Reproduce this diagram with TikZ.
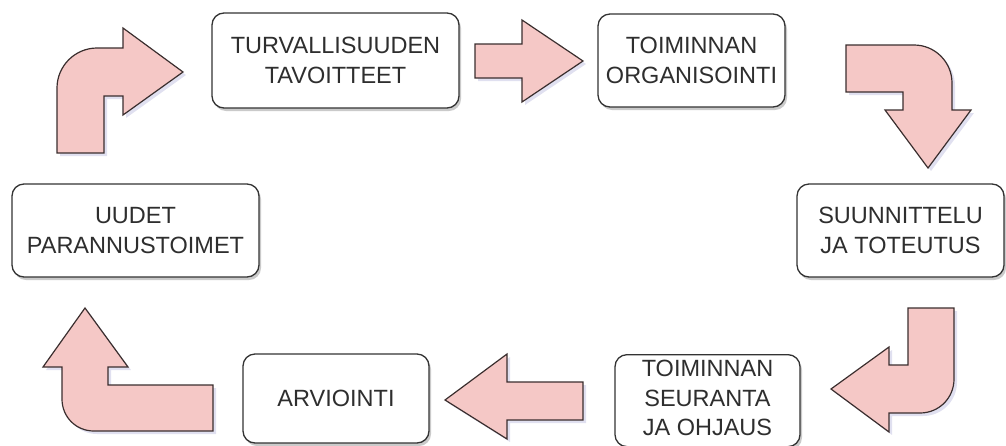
\documentclass[tikz,border=0pt]{standalone}
\usepackage{fontspec}
\setmainfont{Liberation Sans}
\usetikzlibrary{shadows}
\definecolor{txtcol}{HTML}{2E2E2E}
\definecolor{boxline}{HTML}{333333}
\definecolor{arrfill}{HTML}{F5C8C6}
\definecolor{arrline}{HTML}{3A2E2E}
\tikzset{
  stepbox/.style={draw=boxline, line width=1.3pt, fill=white, rounded corners=12pt,
    align=center, text=txtcol, inner sep=0pt,
    font=\fontsize{23.5}{29.5}\selectfont,
    drop shadow={shadow xshift=2pt, shadow yshift=-3pt, opacity=0.35, fill=black!60}},
  bigarrow/.style={draw=arrline, line width=1.2pt, fill=arrfill, line join=miter,
    drop shadow={shadow xshift=3pt, shadow yshift=-3pt, opacity=0.3, fill=black!50!blue!40}}
}
\begin{document}
\begin{tikzpicture}[x=1pt,y=-1pt]
\useasboundingbox (0,0) rectangle (1006,445);
% boxes
\node[stepbox, minimum width=247pt, minimum height=95pt] (b1) at (335.5,60.5) {TURVALLISUUDEN\\TAVOITTEET};
\node[stepbox, minimum width=187pt, minimum height=93pt] (b2) at (691.5,60.5) {TOIMINNAN\\ORGANISOINTI};
\node[stepbox, minimum width=207pt, minimum height=93pt] (b3) at (900.5,230.5) {SUUNNITTELU\\JA TOTEUTUS};
\node[stepbox, minimum width=185pt, minimum height=92pt, text depth=5pt, anchor=north] (b4) at (707.5,354) {TOIMINNAN\\SEURANTA\\JA OHJAUS};
\node[stepbox, minimum width=186pt, minimum height=89pt] (b5) at (336,398.5) {ARVIOINTI};
\node[stepbox, minimum width=247pt, minimum height=93pt] (b6) at (135.5,230.5) {UUDET\\PARANNUSTOIMET};
% arrow b1 -> b2
\draw[bigarrow] (475,44) -- (522,44) -- (522,20) -- (583,61) -- (522,102) -- (522,78) -- (475,78) -- cycle;
% arrow b2 -> b3 (bent)
\draw[bigarrow] (846,45) -- (914,45) .. controls (935,45) and (952,62) .. (952,83) -- (952,110) -- (971,110) -- (928,168) -- (885,110) -- (903,110) -- (903,92) -- (846,92) -- cycle;
% arrow b3 -> b4 (bent)
\draw[bigarrow] (908,308) -- (954,308) -- (954,379) .. controls (954,398) and (939,413) .. (920,413) -- (889,413) -- (889,432) -- (831,389) -- (889,347) -- (889,365) -- (908,365) -- cycle;
% arrow b4 -> b5
\draw[bigarrow] (445,400) -- (507,354) -- (507,382) -- (583,382) -- (583,420) -- (507,420) -- (507,439) -- cycle;
% arrow b5 -> b6 (bent)
\draw[bigarrow] (213,385) -- (108,385) -- (108,367) -- (128,367) -- (85,308) -- (43,367) -- (62,367) -- (62,399) .. controls (62,417) and (76,431) .. (94,431) -- (213,431) -- cycle;
% arrow b6 -> b1 (bent)
\draw[bigarrow] (57,153) -- (57,88) .. controls (57,66) and (75,48) .. (97,48) -- (123,48) -- (123,28) -- (183,72) -- (123,115) -- (123,96) -- (104,96) -- (104,153) -- cycle;
\end{tikzpicture}
\end{document}
